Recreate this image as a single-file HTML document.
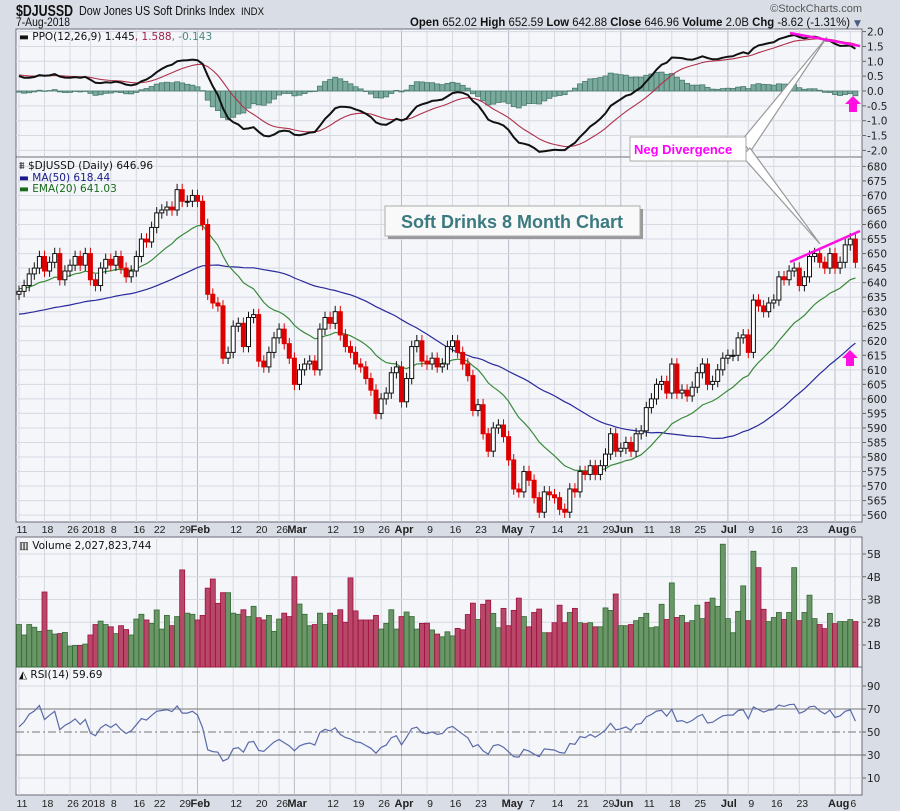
<!DOCTYPE html>
<html><head><meta charset="utf-8"><title>$DJUSSD chart</title>
<style>
html,body{margin:0;padding:0;background:#d9dde6;}
svg{display:block;font-family:"DejaVu Sans","Liberation Sans",sans-serif;}
</style></head>
<body>
<svg id="chart" width="900" height="811" viewBox="0 0 900 811" xmlns="http://www.w3.org/2000/svg">
<rect x="0" y="0" width="900" height="811" fill="#d9dde6"/>
<text x="16" y="16" font-size="16" font-weight="bold" fill="#111" textLength="57" lengthAdjust="spacingAndGlyphs" font-family="Liberation Sans, sans-serif">$DJUSSD</text>
<text x="79" y="15" font-size="13" fill="#111" textLength="156" lengthAdjust="spacingAndGlyphs" font-family="Liberation Sans, sans-serif">Dow Jones US Soft Drinks Index</text>
<text x="241" y="15" font-size="11" fill="#111" textLength="23" lengthAdjust="spacingAndGlyphs" font-family="Liberation Sans, sans-serif">INDX</text>
<text x="16" y="26" font-size="12" fill="#111" textLength="54" lengthAdjust="spacingAndGlyphs" font-family="Liberation Sans, sans-serif">7-Aug-2018</text>
<text x="862" y="12" font-size="11" fill="#555" text-anchor="end" font-family="Liberation Sans, sans-serif">©StockCharts.com</text>
<text x="410" y="26" font-size="12" fill="#111" textLength="440" lengthAdjust="spacingAndGlyphs" font-family="Liberation Sans, sans-serif"><tspan font-weight="bold">Open</tspan> 652.02 <tspan font-weight="bold">High</tspan> 652.59 <tspan font-weight="bold">Low</tspan> 642.88 <tspan font-weight="bold">Close</tspan> 646.96 <tspan font-weight="bold">Volume</tspan> 2.0B <tspan font-weight="bold">Chg</tspan> -8.62 (-1.31%)</text>
<text x="854" y="26" font-size="9" fill="#4a5a80">▼</text>
<g id="g"></g>
</svg>
<script>
// ---- data ----
const closes = [637,639,643,645,649,644,647,650,641,644,646,649,646,650,641,639,645,648,646,649,645,642,644,649,655,654,659,664,665,666,665,672,668,668,670,668,660,636,633,632,
614,616,625,626,618,628,629,613,611,616,621,624,619,614,605,610,612,613,610,624,628,626,630,622,618,616,612,611,607,603,595,600,602,609,611,599,607,618,620,613,612,614,611,612,618,620,616,
612,608,596,598,588,582,590,591,587,579,569,568,575,572,566,561,568,567,566,562,561,569,568,575,574,577,574,577,581,588,582,583,585,582,588,
589,597,600,605,606,602,612,602,603,601,604,609,612,605,606,610,614,615,615,621,622,616,634,632,630,633,634,642,641,644,645,639,642,649,650,647,645,650,645,647,653,655,647];
const volumes = [1.9,1.44,1.9,1.78,1.6,3.33,1.65,1.48,1.5,1.55,0.95,0.98,0.98,1.04,1.44,1.9,2.05,1.9,1.8,1.5,1.85,1.68,1.44,2.14,2.35,2.1,1.95,2.54,1.7,2.3,1.85,2.25,4.3,2.4,2.35,2.1,2.3,3.5,3.9,2.83,3.3,3.3,2.4,2.35,2.55,2.25,2.7,2.2,2.1,2.3,1.6,2.14,2.4,2.25,4.0,2.8,2.35,1.85,1.9,2.4,1.9,2.4,2.3,2.55,2.0,3.95,2.5,2.1,2.1,2.1,2.3,1.7,1.95,2.55,1.7,2.25,2.45,2.25,1.7,1.95,
1.96,1.66,1.48,1.36,1.58,1.4,1.73,1.67,2.34,2.84,2.12,2.79,2.97,2.39,1.76,2.61,1.85,2.52,3.06,2.25,1.8,2.43,2.58,1.54,1.54,1.98,2.75,1.98,2.43,2.61,1.98,1.94,1.98,1.8,1.8,2.63,2.52,3.24,1.85,1.85,1.9,2.07,2.21,2.39,1.76,1.8,2.79,2.12,3.73,2.21,2.3,1.98,2.07,2.75,2.16,2.88,3.06,2.7,5.43,2.16,1.54,2.48,3.6,2.07,5.12,4.4,2.57,2.03,2.21,2.43,2.12,2.43,4.4,2.07,2.43,3.19,2.16,1.9,1.72,2.39,1.94,2.03,2.03,2.12,2.03];
const dateLabels = ["11","18","26","2018","8","16","22","29","Feb","12","20","26","Mar","12","19","26","Apr","9","16","23","May","7","14","21","29","Jun","11","18","25","Jul","9","16","23","Aug","6"];
const dateIdx = [0,5,10,14,18,23,27,32,35,42,47,51,54,61,66,71,75,80,85,90,96,100,105,110,115,118,123,128,133,139,143,148,153,160,163];
const priceTicks = [560,565,570,575,580,585,590,595,600,605,610,615,620,625,630,635,640,645,650,655,660,665,670,675,680];
const ppoTicks = [2.0,1.5,1.0,0.5,0.0,-0.5,-1.0,-1.5,-2.0];
const volTicks = [1,2,3,4,5];
const rsiTicks = [90,70,50,30,10];
const ma50Seed = 629, ema20Seed = 638, ema12Seed = 641, ema26Seed = 637.2, signalSeed = 0.55, gainSeed = 0.9, lossSeed = 0.75;

// ---- scales ----
const L = 16, R = 862;
const xAt = i => 19 + i * 5.1;
const yPrice = p => 166.4 + (680 - p) * 2.906;
const yPpo = v => 91 - v * 29.7;
const yVol = v => 667.75 - v * 22.75;
const yRsi = r => 789.5 - r * 1.15;

const NS = "http://www.w3.org/2000/svg";
const G = document.getElementById('g');
function mk(tag, attrs, parent) {
  const e = document.createElementNS(NS, tag);
  for (const k in attrs) e.setAttribute(k, attrs[k]);
  (parent || G).appendChild(e);
  return e;
}

// ---- indicators ----
const N = closes.length;
const ma50 = [], ema20 = [], ppo = [], sig = [], rsi = [];
let e20 = ema20Seed, e12 = ema12Seed, e26 = ema26Seed, sg = signalSeed, ag = gainSeed, al = lossSeed;
for (let i = 0; i < N; i++) {
  let s = 0, n = 0;
  for (let j = Math.max(0, i - 49); j <= i; j++) { s += closes[j]; n++; }
  ma50.push((s + (50 - n) * ma50Seed) / 50);
  e20 += (closes[i] - e20) * 2 / 21; ema20.push(e20);
  e12 += (closes[i] - e12) * 2 / 13; e26 += (closes[i] - e26) * 2 / 27;
  const p = (e12 - e26) / e26 * 100; ppo.push(p);
  sg += (p - sg) * 2 / 10; sig.push(sg);
  const d = i ? closes[i] - closes[i - 1] : 0;
  ag = (ag * 13 + Math.max(d, 0)) / 14; al = (al * 13 + Math.max(-d, 0)) / 14;
  rsi.push(100 - 100 / (1 + ag / al));
}

// ---- panels ----
const panels = [
  {name:'ppo-panel', y0:29, y1:157},
  {name:'price-panel', y0:157, y1:522},
  {name:'volume-panel', y0:537, y1:667},
  {name:'rsi-panel', y0:667, y1:795}
];
panels.forEach(p => {
  const r = mk('rect', {x:L, y:p.y0, width:R-L, height:p.y1-p.y0, fill:'#f4f6fa', stroke:'#6a6a7a', 'stroke-width':1});
  
  
  dateIdx.forEach((di, k) => {
    const isMonth = isNaN(+dateLabels[k]);
    const gl = mk('line', {x1:xAt(di), x2:xAt(di), y1:p.y0, y2:p.y1, stroke: isMonth ? '#b8bcc8' : '#d6d9e2', 'stroke-width':1});
    
    
  });
});
function hgrid(ticks, yf, fmt, nm, strong) {
  ticks.forEach(t => {
    const y = yf(t);
    const ln = mk('line', {x1:L, x2:R, y1:y, y2:y, stroke: (strong && strong(t)) ? '#777' : '#d6d9e2', 'stroke-width':1});
    if (nm === 'rsi' && t === 50) { ln.setAttribute('stroke', '#777'); ln.setAttribute('stroke-dasharray', '8,3,2,3'); }
    
    
    const tk = mk('line', {x1:R, x2:R+4, y1:y, y2:y, stroke:'#666'});
    
    
    const tx = mk('text', {x:R+5, y:y+4, 'font-size':10.5, fill:'#222'});
    tx.textContent = fmt(t);
    
    
  });
}
hgrid(ppoTicks, yPpo, t => t.toFixed(1), 'ppo');
hgrid(priceTicks, yPrice, t => String(t), 'price');
hgrid(volTicks, yVol, t => t + 'B', 'volume');
hgrid(rsiTicks, yRsi, t => String(t), 'rsi', t => t === 70 || t === 30);

// ---- date axes ----
[537, 811].forEach(yb => {
  dateIdx.forEach((di, k) => {
    const lab = dateLabels[k];
    const isMonth = isNaN(+lab);
    const t = mk('text', {x: isMonth ? xAt(di) - 7 : xAt(di) + 3, y: yb - 4, 'font-size': isMonth ? 11 : 10.5, 'font-weight': isMonth ? 'bold' : 'normal', fill:'#222', 'text-anchor': isMonth ? 'start' : 'middle', 'font-family':'Liberation Sans, sans-serif'});
    t.textContent = lab;
    
    
  });
});

// ---- PPO ----
for (let i = 0; i < N; i++) {
  const h = ppo[i] - sig[i];
  const y0 = yPpo(0), y1 = yPpo(h);
  const b = mk('rect', {x:xAt(i)-2.5, y:Math.min(y0,y1), width:5, height:Math.max(0.5, Math.abs(y1-y0)), fill:'#7aaa9c', stroke:'#4a7a6e', 'stroke-width':0.8});
  
  
}
function line(arr, yf, color, w, nm) {
  const d = arr.map((v, i) => (i ? 'L' : 'M') + xAt(i).toFixed(1) + ',' + yf(v).toFixed(1)).join('');
  const p = mk('path', {d:d, fill:'none', stroke:color, 'stroke-width':w});
  
  
}
line(sig, yPpo, '#b0304a', 1.1, 'ppo-signal-line');
line(ppo, yPpo, '#111', 2, 'ppo-line');

// ---- price ----
line(ma50, yPrice, '#2a2a9a', 1.2, 'ma50-line');
line(ema20, yPrice, '#3a8a3a', 1.2, 'ema20-line');
for (let i = 0; i < N; i++) {
  const c = closes[i], o = i ? closes[i-1] : 636;
  const up = c >= o;
  const hi = Math.max(o, c) + 2, lo = Math.min(o, c) - 2;
  const col = up ? '#111' : '#dd0000';
  const w = mk('line', {x1:xAt(i), x2:xAt(i), y1:yPrice(hi), y2:yPrice(lo), stroke:col, 'stroke-width':1});
  
  
  const yt = yPrice(Math.max(o, c)), yb = yPrice(Math.min(o, c));
  const b = mk('rect', {x:xAt(i)-2, y:yt, width:4, height:Math.max(1, yb-yt), fill: up ? '#fff' : '#dd0000', stroke:col, 'stroke-width':1});
  
  
}

// ---- volume ----
for (let i = 0; i < N; i++) {
  const up = i ? closes[i] >= closes[i-1] : true;
  const y = yVol(volumes[i]);
  const b = mk('rect', {x:xAt(i)-2.5, y:y, width:5, height:667-y, fill: up ? '#6a9668' : '#b8486a', stroke: up ? '#346a34' : '#a0103c', 'stroke-width':0.8});
  
  
}

// ---- RSI ----
line(rsi, yRsi, '#5a6aa8', 1.2, 'rsi-line');

// ---- legends ----
function legend(x, y, parts, nm) {
  const t = mk('text', {x:x, y:y, 'font-size':10.5});
  parts.forEach(p => { const s = mk('tspan', {fill:p[1]}, t); s.textContent = p[0]; });
  
  
}
legend(19, 40, [['▬ PPO(12,26,9) 1.445','#111'],[', 1.588','#a0204a'],[', -0.143','#4a8a80']], 'ppo-legend');
legend(19, 169, [['⩩ $DJUSSD (Daily) 646.96','#111']], 'price-legend');
legend(19, 181, [['▬ MA(50) 618.44','#1a1a8a']], 'ma50-legend');
legend(19, 192, [['▬ EMA(20) 641.03','#1a6a1a']], 'ema20-legend');
legend(19, 549, [['▥ Volume 2,027,823,744','#111']], 'volume-legend');
legend(19, 678, [['◭ RSI(14) 59.69','#111']], 'rsi-legend');
</script>
<!-- annotations -->
<svg style="position:absolute;left:0;top:0" width="900" height="811">
<rect x="388" y="209" width="255" height="30" fill="#999"/>
<rect x="385" y="206" width="255" height="30" fill="#f9f9f9" stroke="#aaa"/>
<text x="512" y="228" font-size="18" font-weight="bold" fill="#3a7a80" text-anchor="middle" font-family="Liberation Sans, sans-serif">Soft Drinks 8 Month Chart</text>
<polygon points="742,140 827,37 750,152" fill="#fff" stroke="#999" stroke-width="1.2"/>
<polygon points="742,156 820,244 750,148" fill="#fff" stroke="#999" stroke-width="1.2"/>
<rect x="630" y="137" width="116" height="24" fill="#fff" stroke="#aaa"/>
<text x="634" y="154" font-size="13" font-weight="bold" fill="#ff00ff" font-family="Liberation Sans, sans-serif">Neg Divergence</text>
<line x1="790" y1="33" x2="860" y2="46" stroke="#ff10e0" stroke-width="2.5"/>
<line x1="790" y1="262" x2="860" y2="231" stroke="#ff10e0" stroke-width="2.5"/>
<polygon points="853,96 861,104 857,104 857,112 849,112 849,104 845,104" fill="#ff10e0"/>
<polygon points="850,350 858,358 854,358 854,366 846,366 846,358 842,358" fill="#ff10e0"/>
</svg>
</body></html>
